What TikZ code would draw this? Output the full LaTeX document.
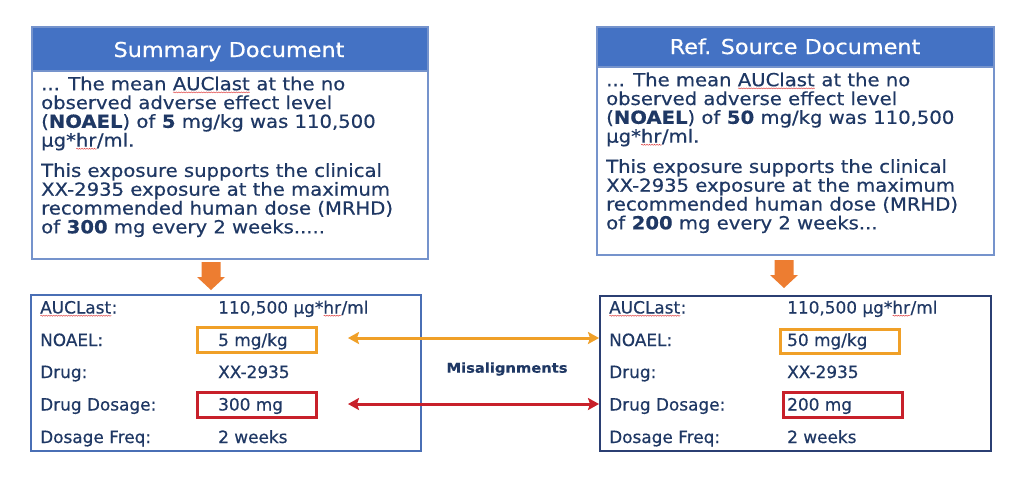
\documentclass[tikz,border=0pt]{standalone}
\usepackage{fontspec}
\setmainfont{DejaVu Sans}[FakeStretch=1.09, FakeBold=0.5]
\newfontfamily\tabfont{DejaVu Sans}[FakeBold=0.5]
\usetikzlibrary{arrows.meta,decorations.pathmorphing}
\definecolor{navy}{HTML}{1F3864}
\definecolor{hdrblue}{HTML}{4472C4}
\definecolor{topbord}{HTML}{7593CC}
\definecolor{lbord}{HTML}{4A6FB5}
\definecolor{rbord}{HTML}{2B3F73}
\definecolor{darr}{HTML}{ED7D31}
\definecolor{obox}{HTML}{F0A028}
\definecolor{rbox}{HTML}{C8202A}
\definecolor{sqred}{HTML}{E04848}
\newsavebox\sqbox
\newlength\sqlen
\newcommand\sqw[1]{\sbox\sqbox{#1}\setlength\sqlen{\wd\sqbox}\rlap{\usebox\sqbox}\tikz[baseline=0pt]\draw[sqred,line width=0.5pt,decorate,decoration={snake,amplitude=0.5pt,segment length=2.5pt}] (0pt,-2.2pt)--(\sqlen,-2.2pt);}
\begin{document}
\begin{tikzpicture}[x=1pt,y=-1pt,
  body/.style={font=\fontsize{18}{18.8}\selectfont, text=navy, align=left, inner sep=0pt, anchor=north west},
  ttl/.style={font=\fontsize{20.5}{22}\selectfont, text=white, inner sep=0pt, anchor=base},
  tab/.style={font=\tabfont\fontsize{16.9}{18}\selectfont, text=navy, inner sep=0pt, anchor=base west},
  hl/.style={draw, line width=3pt, minimum width=119pt, minimum height=25pt, inner sep=0pt},
  frame/.style={line width=1.5pt, inner sep=0pt, anchor=north west},
  link/.style={line width=3pt, {Stealth[length=11pt,width=12pt,inset=2pt]}-{Stealth[length=11pt,width=12pt,inset=2pt]}},
  blockarrow/.style={fill=darr}
]
\fill[white] (0,0) rectangle (1024,477);
\useasboundingbox (0,0) rectangle (1024,477);

% ---------- top left: Summary Document ----------
\node[frame, draw=topbord, fill=white, minimum width=396pt, minimum height=232pt] (lbox) at (31,26) {};
\node[frame, draw=topbord, fill=hdrblue, minimum width=396pt, minimum height=44pt] (lhead) at (31,26) {};
\node[ttl] (ltitle) at (229,57) {Summary Document};
\node[body] (ltext) at (41,76) {\rule{0pt}{14pt}... The mean \sqw{AUClast} at the no\\
observed adverse effect level\\
(\textbf{NOAEL}) of \textbf{5} mg/kg was 110,500\\
µg*\sqw{hr}/ml.\\[11.5pt]
This exposure supports the clinical\\
XX-2935 exposure at the maximum\\
recommended human dose (MRHD)\\
of \textbf{300} mg every 2 weeks.....};

% ---------- top right: Ref. Source Document ----------
\node[frame, draw=topbord, fill=white, minimum width=397pt, minimum height=228pt] (rbox) at (596,26) {};
\node[frame, draw=topbord, fill=hdrblue, minimum width=397pt, minimum height=40pt] (rhead) at (596,26) {};
\node[ttl] (rtitle) at (795,54) {Ref. Source Document};
\node[body] (rtext) at (606,72) {\rule{0pt}{14pt}... The mean \sqw{AUClast} at the no\\
observed adverse effect level\\
(\textbf{NOAEL}) of \textbf{50} mg/kg was 110,500\\
µg*\sqw{hr}/ml.\\[11.5pt]
This exposure supports the clinical\\
XX-2935 exposure at the maximum\\
recommended human dose (MRHD)\\
of \textbf{200} mg every 2 weeks...};

% ---------- block arrows ----------
\fill[blockarrow] (201.5,262) -- (220.5,262) -- (220.5,277) -- (225,277) -- (211,290) -- (197,277) -- (201.5,277) -- cycle;
\fill[blockarrow] (774.5,260) -- (793.5,260) -- (793.5,275) -- (798,275) -- (784,288) -- (770,275) -- (774.5,275) -- cycle;

% ---------- bottom left table ----------
\node[frame, draw=lbord, minimum width=390pt, minimum height=156pt] (lbot) at (30,294) {};
\node[hl, draw=obox] (lhlA) at (257,340) {};
\node[hl, draw=rbox] (lhlB) at (257,405) {};
\node[tab] (lk1) at (40,313.5) {\sqw{AUCLast}:};
\node[tab] (lk2) at (40,346) {NOAEL:};
\node[tab] (lk3) at (40,378) {Drug:};
\node[tab] (lk4) at (40,410.5) {Drug Dosage:};
\node[tab] (lk5) at (40,443) {Dosage Freq:};
\node[tab] (lv1) at (218,313.5) {110,500 µg*\sqw{hr}/ml};
\node[tab] (lv2) at (218,346) {5 mg/kg};
\node[tab] (lv3) at (218,378) {XX-2935};
\node[tab] (lv4) at (218,410.5) {300 mg};
\node[tab] (lv5) at (218,443) {2 weeks};

% ---------- bottom right table ----------
\node[frame, draw=rbord, minimum width=391pt, minimum height=155pt] (rbot) at (599,295) {};
\node[hl, draw=obox, minimum width=119pt, minimum height=24pt] (rhlA) at (839.5,341) {};
\node[hl, draw=rbox] (rhlB) at (842.5,405) {};
\node[tab] (rk1) at (609,313.5) {\sqw{AUCLast}:};
\node[tab] (rk2) at (609,346) {NOAEL:};
\node[tab] (rk3) at (609,378) {Drug:};
\node[tab] (rk4) at (609,410.5) {Drug Dosage:};
\node[tab] (rk5) at (609,443) {Dosage Freq:};
\node[tab] (rv1) at (787,313.5) {110,500 µg*\sqw{hr}/ml};
\node[tab] (rv2) at (787,346) {50 mg/kg};
\node[tab] (rv3) at (787,378) {XX-2935};
\node[tab] (rv4) at (787,410.5) {200 mg};
\node[tab] (rv5) at (787,443) {2 weeks};

% ---------- misalignment connectors ----------
\coordinate (oL) at (348,338);
\coordinate (rL) at (348,404);
\draw[link, obox] (oL) -- (oL -| rbot.west);
\draw[link, rbox] (rL) -- (rL -| rbot.west);
\node[font=\bfseries\fontsize{13.5}{15}\selectfont, text=navy, inner sep=0pt] (mis) at (507,369) {Misalignments};
\end{tikzpicture}
\end{document}
